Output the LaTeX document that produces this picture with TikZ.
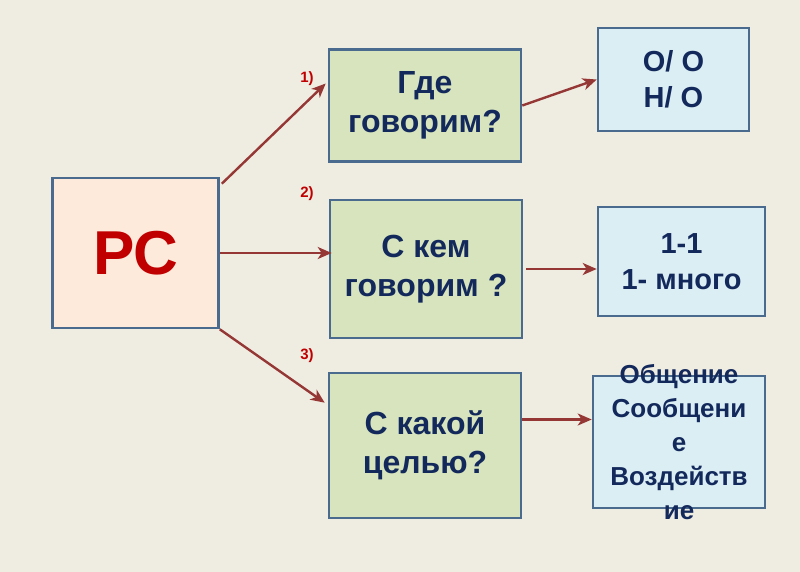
\documentclass[tikz,border=0pt]{standalone}
\usepackage{fontspec}
\setmainfont{Liberation Sans}
\usetikzlibrary{arrows.meta,calc}
\definecolor{bg}{HTML}{EFECE2}
\definecolor{edge}{HTML}{4A6A8E}
\definecolor{pcfill}{HTML}{FDEADA}
\definecolor{gfill}{HTML}{D7E4BD}
\definecolor{bfill}{HTML}{DBEEF4}
\definecolor{txt}{HTML}{13295B}
\definecolor{arr}{HTML}{953735}
\definecolor{pcred}{HTML}{C00000}
\begin{document}
\begin{tikzpicture}[x=1pt,y=-1pt,
  box/.style={draw=edge,line width=2.6pt,inner sep=0pt,text=txt,align=center,
    font=\bfseries\fontsize{32}{39}\selectfont},
  pcbox/.style={box,fill=pcfill,minimum width=166pt,minimum height=150pt,text=pcred,
    font=\bfseries\fontsize{62}{64}\selectfont},
  gbox/.style={box,fill=gfill,minimum width=192pt},
  bbox/.style={box,fill=bfill,font=\bfseries\fontsize{29}{36}\selectfont},
  conn/.style={draw=arr,line width=2.4pt,-{Stealth[length=14pt,width=12pt,inset=4pt]}},
  numlab/.style={text=pcred,font=\bfseries\fontsize{15}{16}\selectfont,inner sep=0pt}
]
\fill[bg] (0,0) rectangle (800,572);
\useasboundingbox (0,0) rectangle (800,572);

\node[pcbox] (pc) at (135.5,253) {РС};

\node[gbox,minimum height=112pt] (g1) at (425,105.5) {Где\\говорим?};
\node[gbox,minimum height=138pt] (g2) at (426,269) {С кем\\говорим ?};
\node[gbox,minimum height=145pt] (g3) at (425,445.5) {С какой\\целью?};

\node[bbox,minimum width=151pt,minimum height=103pt] (b1) at (673.5,79.5) {О/ О\\Н/ О};
\node[bbox,minimum width=167pt,minimum height=109pt] (b2) at (681.5,261.5) {1-1\\1- много};
\node[bbox,minimum width=172pt,minimum height=132pt] (b3) at (679,442) {};
\node[text=txt,align=center,inner sep=0pt,font=\bfseries\fontsize{26}{34}\selectfont]
  (b3t) at (b3.center) {Общение\\Сообщени\\е\\Воздейств\\ие};

\node[numlab] (n1) at (307,79) {1)};
\node[numlab] (n2) at (307,194) {2)};
\node[numlab] (n3) at (307,356) {3)};

\draw[conn] ($(pc.north east)+(2,7)$) -- ($(g1.west)+(-2,-22)$);
\draw[conn] (pc.east) -- ($(pc.east -| g2.west)+(3,0)$);
\draw[conn] (pc.south east) -- ($(g3.north west)+(-3,31)$);
\draw[conn] (g1.east) -- (b1.west);
\draw[conn] ($(g2.east)+(3,0)$) -- (g2.east -| b2.west);
\coordinate (g3out) at ($(g3.east)+(0,-26)$);
\draw[conn] (g3out) -- (g3out -| b3.west);
\end{tikzpicture}
\end{document}
